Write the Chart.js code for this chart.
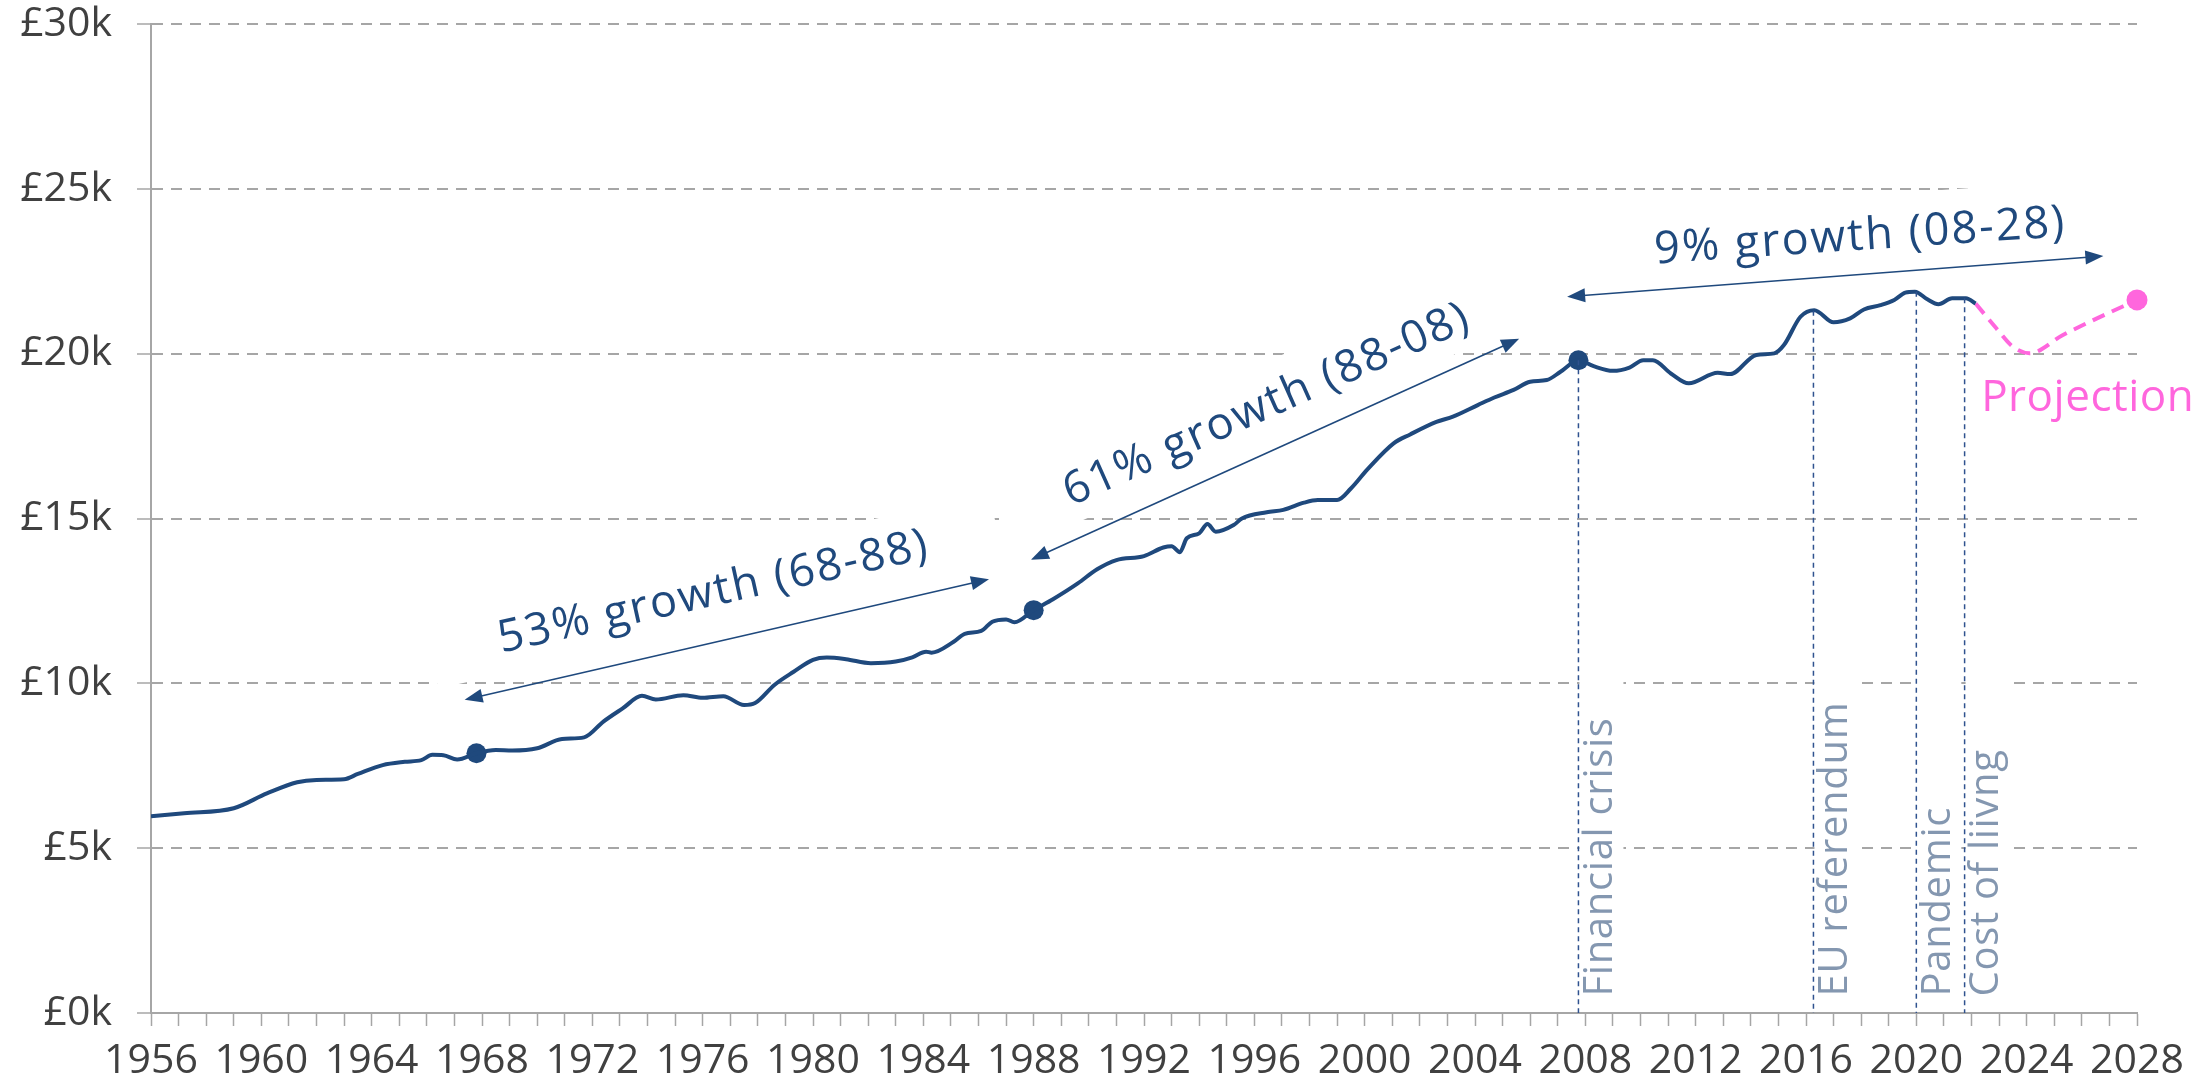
<!DOCTYPE html>
<html>
<head>
<meta charset="utf-8">
<script src="https://cdn.jsdelivr.net/npm/chart.js@4.4.1/dist/chart.umd.min.js"></script>
<style>
  html, body { margin: 0; padding: 0; background: #fff; }
  #wrap { width: 2194px; height: 1079px; }
</style>
</head>
<body>
<div id="wrap"><canvas id="payChart"></canvas></div>
<script>
// pay in £ thousands
const years = [
  1956.0, 1957.2, 1959.0, 1960.2, 1961.3, 1962.0, 1963.0, 1963.5, 1964.4, 1965.2,
  1965.8, 1966.2, 1966.6, 1967.1, 1967.8, 1968.5, 1969.1, 1970.0, 1970.9, 1971.7,
  1972.4, 1973.1, 1973.8, 1974.3, 1975.3, 1976.0, 1976.75, 1977.5, 1977.9, 1978.6,
  1979.3, 1980.0, 1980.5, 1981.2, 1982.1, 1983.0, 1983.6, 1984.1, 1984.3, 1985.1,
  1985.5, 1986.1, 1986.5, 1987.0, 1987.3, 1988.0, 1988.7, 1989.6, 1990.3, 1991.0,
  1992.0, 1992.7, 1993.0, 1993.3, 1993.55, 1994.0, 1994.3, 1994.6, 1995.25, 1995.55,
  1996.45, 1997.05, 1997.8, 1998.3, 1999.0, 1999.5, 2000.1, 2001.05, 2001.65, 2002.6,
  2003.2, 2004.1, 2004.7, 2005.4, 2006.0, 2006.6, 2007.1, 2007.75, 2008.3, 2009.0,
  2009.6, 2010.1, 2010.45, 2011.1, 2011.75, 2012.8, 2013.25, 2014.2, 2014.85, 2015.2,
  2015.8, 2016.3, 2017.0, 2017.6, 2018.1, 2018.7, 2019.2, 2019.6, 2019.95, 2020.4,
  2020.8, 2021.3, 2021.8, 2022.15
];
const earnings = [
  5.97, 6.06, 6.21, 6.66, 7.00, 7.07, 7.09, 7.25, 7.52, 7.62,
  7.67, 7.83, 7.82, 7.69, 7.88, 7.98, 7.96, 8.03, 8.31, 8.36,
  8.84, 9.24, 9.62, 9.51, 9.64, 9.56, 9.61, 9.34, 9.40, 9.95,
  10.35, 10.71, 10.78, 10.73, 10.61, 10.66, 10.79, 10.96, 10.93, 11.26,
  11.50, 11.59, 11.87, 11.94, 11.85, 12.22, 12.55, 13.03, 13.46, 13.74,
  13.86, 14.12, 14.16, 13.98, 14.40, 14.55, 14.83, 14.60, 14.80, 15.00,
  15.19, 15.26, 15.48, 15.56, 15.56, 15.91, 16.49, 17.28, 17.55, 17.93,
  18.09, 18.44, 18.67, 18.90, 19.15, 19.20, 19.45, 19.80, 19.62, 19.48,
  19.58, 19.80, 19.80, 19.40, 19.10, 19.42, 19.38, 19.96, 20.01, 20.26,
  21.12, 21.32, 20.95, 21.07, 21.34, 21.47, 21.63, 21.85, 21.88, 21.65,
  21.50, 21.68, 21.68, 21.52
];
const projYears = [2022.15, 2022.9, 2023.5, 2024.1, 2025.3, 2026.55, 2028.0];
const projEarnings = [21.52, 20.77, 20.21, 20.01, 20.56, 21.07, 21.63];

const markerYears = [1967.8, 1988.0, 2007.75];
const markerEarnings = [7.88, 12.22, 19.80];

const eventYears = [2007.75, 2016.27, 2020.0, 2021.75];
const eventEarnings = [19.80, 21.30, 21.88, 21.68];
const eventLabels = ['Financial crisis', 'EU referendum', 'Pandemic', 'Cost of liivng'];

const growthLabels = ['53% growth (68-88)', '61% growth (88-08)', '9% growth (08-28)'];
const projectionLabel = 'Projection';

const xTickLabels = ['1956', '1960', '1964', '1968', '1972', '1976', '1980', '1984', '1988',
  '1992', '1996', '2000', '2004', '2008', '2012', '2016', '2020', '2024', '2028'];
const yTickLabels = ['£0k', '£5k', '£10k', '£15k', '£20k', '£25k', '£30k'];

const NAVY = '#1f497d';
const PINK = '#ff66dd';
const SLATE = '#8497b0';
const GRID = '#a6a6a6';
const FONT = "'Open Sans', sans-serif";

// annotation placement, in chart units (year, £k) plus pixel box sizes
const growthNotes = [
  { text: growthLabels[0], at: [1976.4, 12.75], angle: -12.5, from: [1967.37, 9.5], to: [1986.38, 13.16], box: [580, 71], boxAt: [1976.4, 12.8] },
  { text: growthLabels[1], at: [1996.46, 18.44], angle: -24, from: [1987.9, 13.75], to: [2005.6, 20.45], box: [586, 70], boxAt: [1996.46, 18.6] },
  { text: growthLabels[2], at: [2017.97, 23.54], angle: -3.8, from: [2007.34, 21.73], to: [2026.78, 22.96], box: [560, 85], boxAt: [2019.05, 23.57] }
];

function drawArrow(ctx, x1, y1, x2, y2) {
  const a = Math.atan2(y2 - y1, x2 - x1);
  const head = 18, half = 7;
  ctx.beginPath();
  ctx.moveTo(x1 + Math.cos(a) * head * 0.7, y1 + Math.sin(a) * head * 0.7);
  ctx.lineTo(x2 - Math.cos(a) * head * 0.7, y2 - Math.sin(a) * head * 0.7);
  ctx.stroke();
  [[x2, y2, a], [x1, y1, a + Math.PI]].forEach(([x, y, t]) => {
    const bx = x - Math.cos(t) * head, by = y - Math.sin(t) * head;
    ctx.beginPath();
    ctx.moveTo(x, y);
    ctx.lineTo(bx + Math.sin(t) * half, by - Math.cos(t) * half);
    ctx.lineTo(bx - Math.sin(t) * half, by + Math.cos(t) * half);
    ctx.closePath();
    ctx.fill();
  });
}

function whiteBox(ctx, cx, cy, w, h, angle) {
  ctx.save();
  ctx.translate(cx, cy);
  ctx.rotate(angle * Math.PI / 180);
  ctx.fillStyle = '#fff';
  ctx.fillRect(-w / 2, -h / 2, w, h);
  ctx.restore();
}

const annotations = {
  id: 'annotations',
  beforeDatasetsDraw(chart) {
    const { ctx, scales: { x, y } } = chart;
    // text boxes in the original hide bits of the grid
    growthNotes.forEach(n => {
      whiteBox(ctx, x.getPixelForValue(n.boxAt[0]), y.getPixelForValue(n.boxAt[1]), n.box[0], n.box[1], n.angle);
    });
    eventYears.forEach(yr => {
      const px = x.getPixelForValue(yr);
      ctx.fillStyle = '#fff';
      ctx.fillRect(px + 1, y.getPixelForValue(11), 44, y.getPixelForValue(0.3) - y.getPixelForValue(11));
    });
  },
  afterDatasetsDraw(chart) {
    const { ctx, chartArea: area, scales: { x, y } } = chart;
    ctx.save();

    // event markers
    eventYears.forEach((yr, i) => {
      const px = x.getPixelForValue(yr);
      ctx.strokeStyle = '#2f528f';
      ctx.lineWidth = 1.5;
      ctx.setLineDash([5, 4]);
      ctx.beginPath();
      ctx.moveTo(px, y.getPixelForValue(eventEarnings[i]));
      ctx.lineTo(px, area.bottom);
      ctx.stroke();
      ctx.setLineDash([]);

      ctx.save();
      ctx.translate(px + 22, y.getPixelForValue(0.5));
      ctx.rotate(-Math.PI / 2);
      ctx.font = '40px ' + FONT;
      ctx.letterSpacing = '0.7px';
      ctx.fillStyle = SLATE;
      ctx.textAlign = 'left';
      ctx.textBaseline = 'middle';
      ctx.fillText(eventLabels[i], 0, 0);
      ctx.restore();
    });

    // growth arrows and labels
    ctx.strokeStyle = NAVY;
    ctx.fillStyle = NAVY;
    ctx.lineWidth = 1.6;
    growthNotes.forEach(n => {
      drawArrow(ctx, x.getPixelForValue(n.from[0]), y.getPixelForValue(n.from[1]),
        x.getPixelForValue(n.to[0]), y.getPixelForValue(n.to[1]));
      ctx.save();
      ctx.translate(x.getPixelForValue(n.at[0]), y.getPixelForValue(n.at[1]));
      ctx.rotate(n.angle * Math.PI / 180);
      ctx.font = '45px ' + FONT;
      ctx.letterSpacing = '2px';
      ctx.textAlign = 'center';
      ctx.textBaseline = 'middle';
      ctx.fillText(n.text, 0, 0);
      ctx.restore();
    });

    ctx.font = '44px ' + FONT;
    ctx.letterSpacing = '0.5px';
    ctx.fillStyle = PINK;
    ctx.textAlign = 'left';
    ctx.textBaseline = 'middle';
    ctx.fillText(projectionLabel, x.getPixelForValue(2022.35), y.getPixelForValue(18.63));
    ctx.restore();
  }
};

new Chart(document.getElementById('payChart'), {
  type: 'line',
  data: {
    datasets: [
      {
        label: 'Pay',
        data: years.map((yr, i) => ({ x: yr, y: earnings[i] })),
        borderColor: NAVY,
        borderWidth: 4,
        pointRadius: 0,
        cubicInterpolationMode: 'monotone',
        borderJoinStyle: 'round'
      },
      {
        label: 'Projection',
        data: projYears.map((yr, i) => ({ x: yr, y: projEarnings[i] })),
        borderColor: PINK,
        borderWidth: 4,
        borderDash: [13, 8],
        cubicInterpolationMode: 'monotone',
        clip: false,
        pointRadius: c => (c.dataIndex === projYears.length - 1 ? 10.5 : 0),
        pointBackgroundColor: PINK,
        pointBorderWidth: 0
      },
      {
        label: 'Markers',
        data: markerYears.map((yr, i) => ({ x: yr, y: markerEarnings[i] })),
        showLine: false,
        clip: false,
        pointRadius: 10,
        pointBackgroundColor: NAVY,
        pointBorderWidth: 0
      }
    ]
  },
  options: {
    responsive: true,
    maintainAspectRatio: false,
    animation: false,
    devicePixelRatio: 1,
    layout: { padding: { top: 24, right: 57, left: 0, bottom: 0 } },
    plugins: {
      legend: { display: false },
      tooltip: { enabled: false }
    },
    scales: {
      x: {
        type: 'linear',
        min: 1956,
        max: 2028,
        afterFit: s => { s.height = 66; s.paddingLeft = 0; s.paddingRight = 0; },
        grid: { drawOnChartArea: false, drawTicks: true, tickLength: 13, tickColor: GRID, tickWidth: 1.5 },
        border: { color: GRID, width: 2 },
        ticks: {
          stepSize: 1,
          autoSkip: false,
          maxRotation: 0,
          minRotation: 0,
          padding: 11,
          color: '#404040',
          font: { family: FONT, size: 41 },
          callback: v => (xTickLabels.includes(String(v)) ? String(v) : '')
        }
      },
      y: {
        min: 0,
        max: 30,
        afterFit: s => { s.width = 151; s.paddingTop = 0; s.paddingBottom = 0; },
        grid: { color: GRID, lineWidth: 2, tickLength: 14, tickColor: GRID, tickWidth: 1.5 },
        border: { color: GRID, width: 2, dash: [11, 8] },
        ticks: {
          stepSize: 5,
          padding: 25,
          color: '#404040',
          font: { family: FONT, size: 41 },
          callback: v => yTickLabels[Math.round(v / 5)]
        }
      }
    }
  },
  plugins: [annotations]
});
</script>
</body>
</html>
